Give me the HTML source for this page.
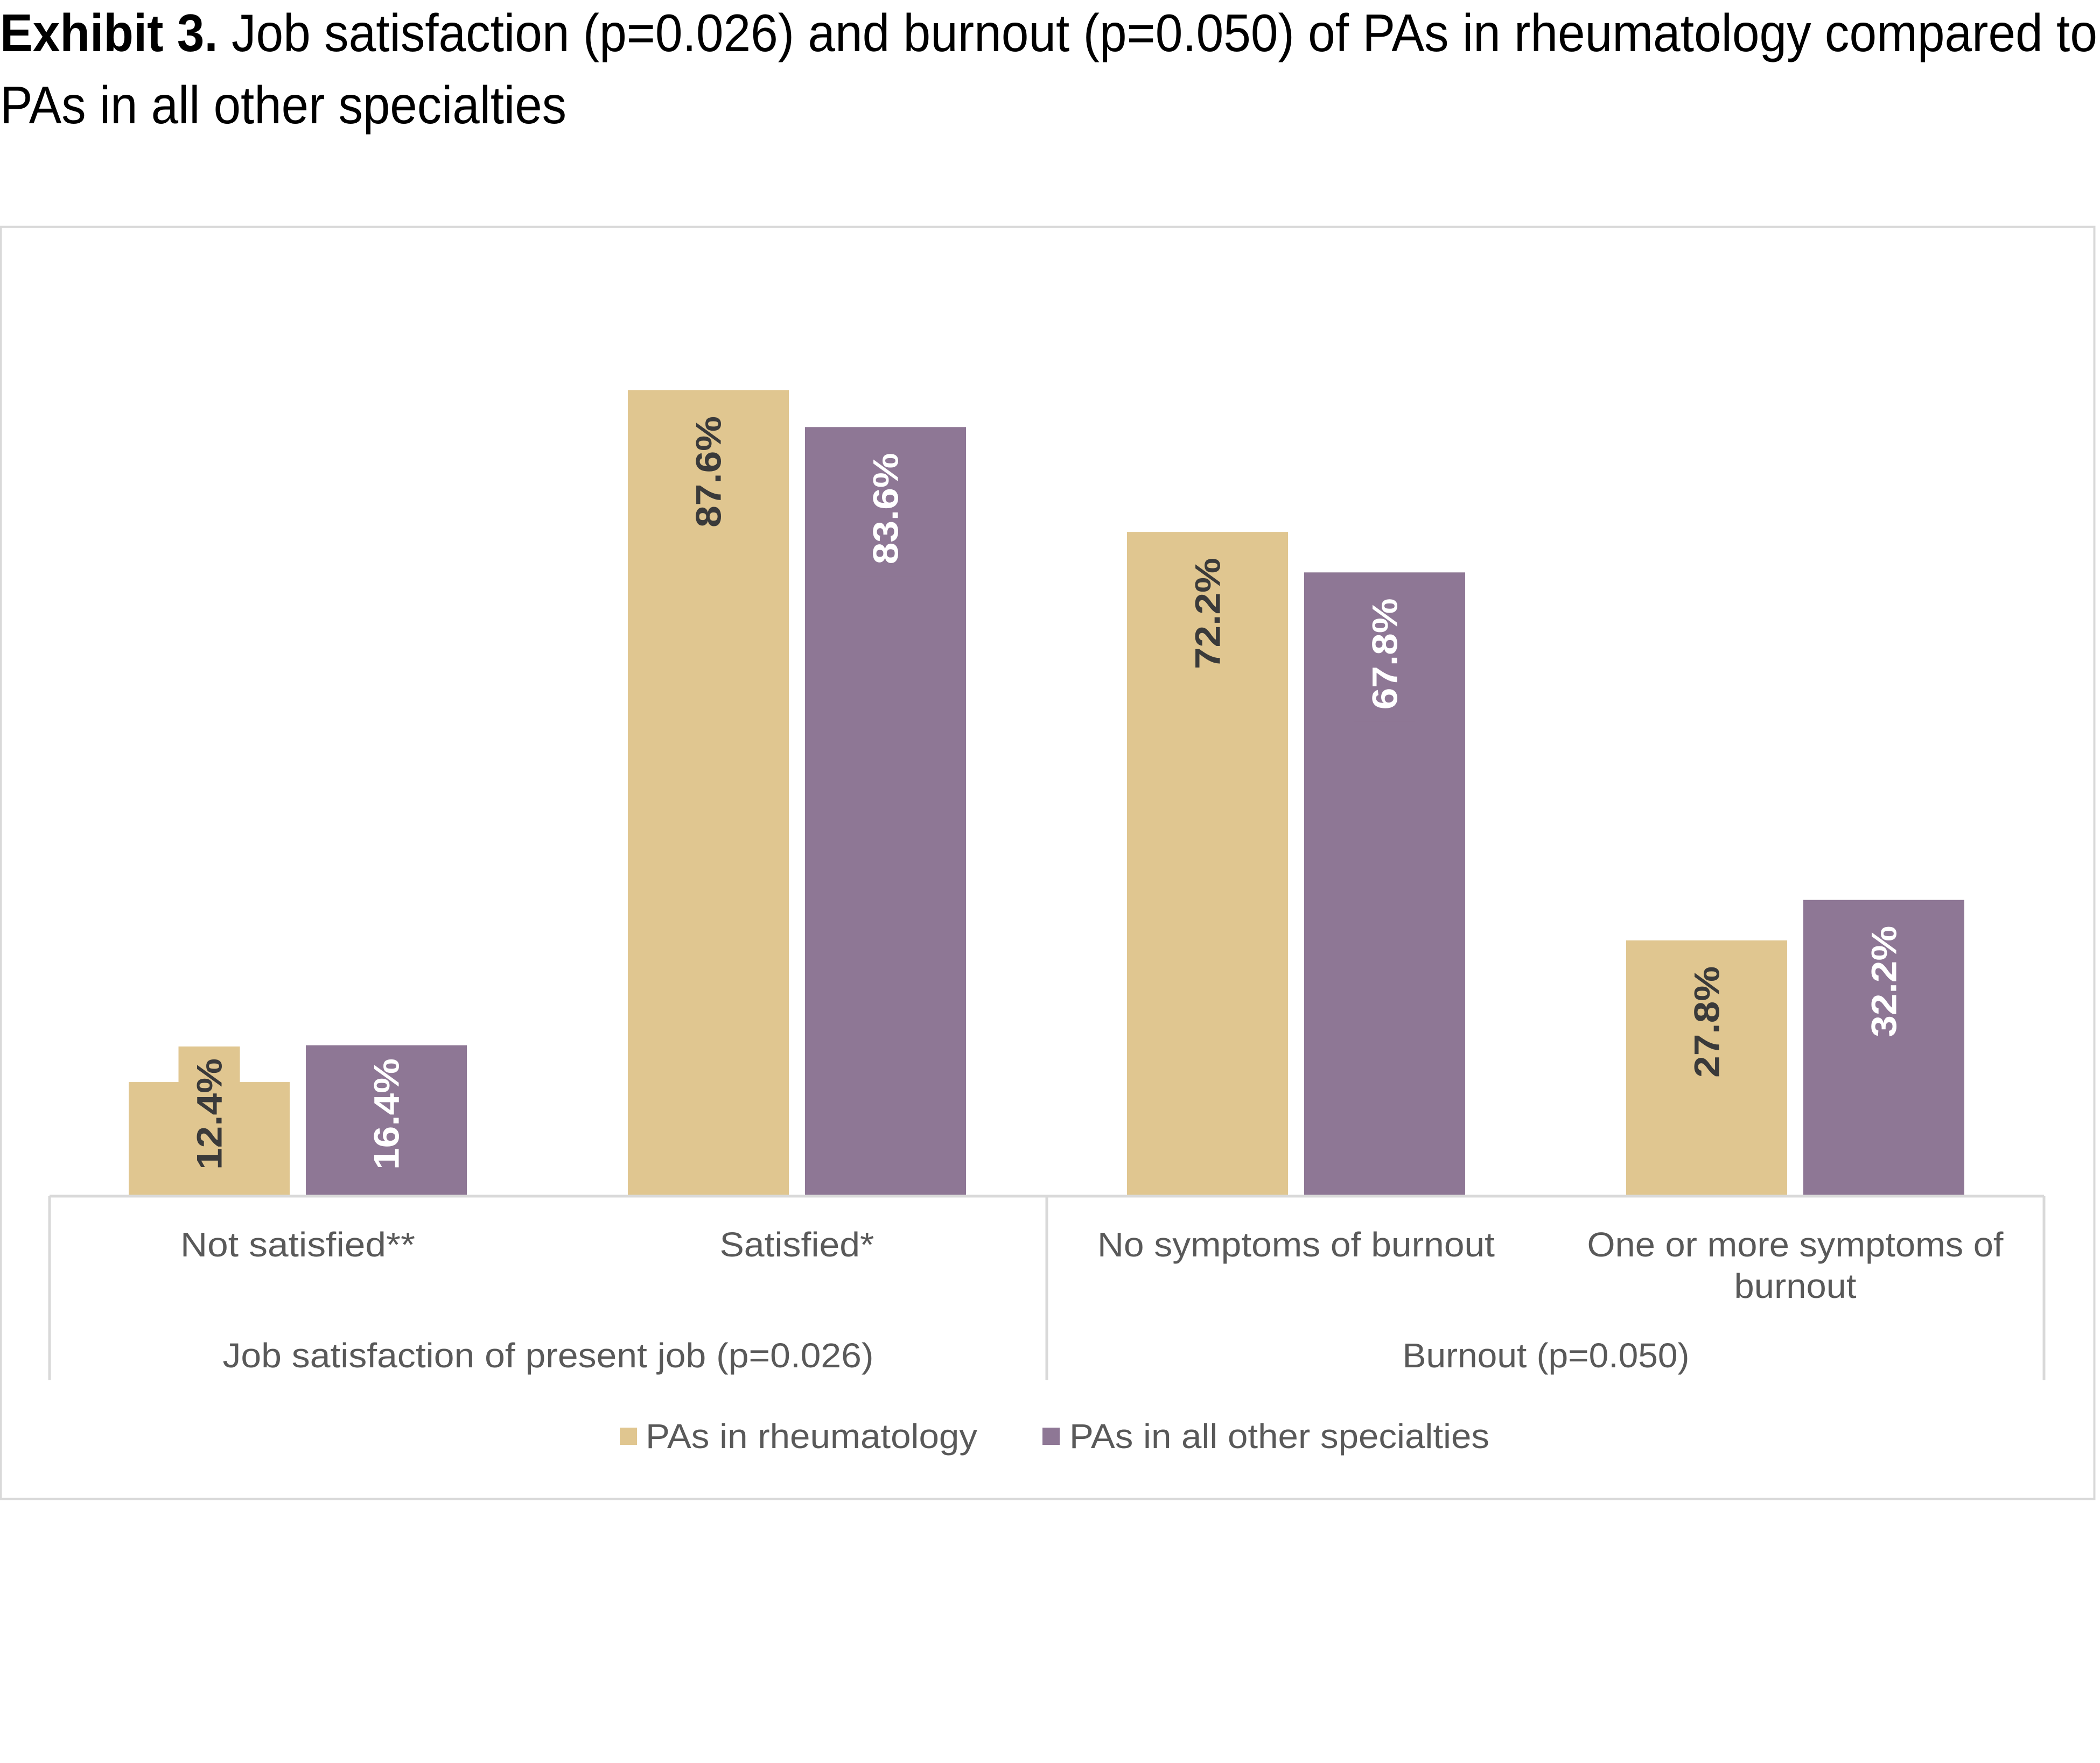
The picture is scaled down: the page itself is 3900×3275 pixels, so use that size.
<!DOCTYPE html>
<html><head><meta charset="utf-8"><style>
html,body{margin:0;padding:0;background:#fff;}
svg{display:block;}
text{font-family:"Liberation Sans",sans-serif;}
</style></head><body>
<svg id="chart" width="3900" height="3275" viewBox="0 0 3900 3275" xmlns="http://www.w3.org/2000/svg">
<rect width="3900" height="3275" fill="#fff"/>
<text x="0" y="95" font-size="98" fill="#000" textLength="3895" lengthAdjust="spacingAndGlyphs"><tspan font-weight="bold">Exhibit 3.</tspan> Job satisfaction (p=0.026) and burnout (p=0.050) of PAs in rheumatology compared to</text>
<text x="0" y="229" font-size="98" fill="#000" textLength="1052" lengthAdjust="spacingAndGlyphs">PAs in all other specialties</text>
<rect x="1.5" y="421.5" width="3888" height="2363" fill="none" stroke="#d9d9d9" stroke-width="4"/>
<g id="bars"></g>
<g id="axis" fill="#595959"></g>
</svg>
<script>
const categories = ["Not satisfied**", "Satisfied*", "No symptoms of burnout", "One or more symptoms of|burnout"];
const rheumatology = [12.4, 87.6, 72.2, 27.8];
const otherSpecialties = [16.4, 83.6, 67.8, 32.2];
const groups = ["Job satisfaction of present job (p=0.026)", "Burnout (p=0.050)"];
const seriesNames = ["PAs in rheumatology", "PAs in all other specialties"];

const NS = "http://www.w3.org/2000/svg";
const baseY = 2222, pxPerUnit = 17.09;
const y = v => baseY - v * pxPerUnit;
const groupStart = 239, groupStep = 927, barW = 299, barGap = 30;
const colors = ["#E0C690", "#8E7795"];
const labelColors = ["#3a3a3a", "#ffffff"];
const catLabelW = [436, 287, 738, 773];
const bars = document.getElementById("bars");
const axis = document.getElementById("axis");
function mk(tag, attrs, parent) {
  const e = document.createElementNS(NS, tag);
  for (const k in attrs) e.setAttribute(k, attrs[k]);
  parent.appendChild(e);
  return e;
}
[rheumatology, otherSpecialties].forEach((series, s) => {
  series.forEach((v, i) => {
    const x = groupStart + i * groupStep + s * (barW + barGap);
    const top = y(v);
    const r = mk("rect", {x: x, y: top, width: barW, height: baseY - top, fill: colors[s]}, bars);
    
    
    const cx = x + barW / 2;
    const labelLen = 207;
    let endY = top + 48;
    if (baseY - top < labelLen + 96) endY = baseY - 49 - labelLen;
    const box = mk("rect", {x: cx - 57, y: endY - 22, width: 114, height: labelLen + 44, fill: colors[s]}, bars);
    
    
    const t = mk("text", {x: 0, y: 0, "font-size": 66, "font-weight": "bold", fill: labelColors[s], textLength: labelLen, lengthAdjust: "spacingAndGlyphs",
      transform: "translate(" + (cx + 23) + "," + (endY + labelLen) + ") rotate(-90)"}, bars);
    t.textContent = v.toFixed(1) + "%";
    
    
  });
});
const ax = mk("line", {x1: 92, y1: baseY, x2: 3796, y2: baseY, stroke: "#d9d9d9", "stroke-width": 5}, axis);


[92, 1944, 3796].forEach(xv => {
  const l = mk("line", {x1: xv, y1: baseY, x2: xv, y2: 2564, stroke: "#d9d9d9", "stroke-width": 5}, axis);
  
  
});
categories.forEach((c, i) => {
  const cx = groupStart + i * groupStep + barW + barGap / 2;
  const parts = c.split("|");
  parts.forEach((p, j) => {
    const t = mk("text", {x: cx, y: 2334 + j * 77, "font-size": 64, "text-anchor": "middle", fill: "#595959", textLength: j === 0 ? catLabelW[i] : 227, lengthAdjust: "spacingAndGlyphs"}, axis);
    t.textContent = p;
    
    
  });
});
const groupCenters = [1018, 2871], groupW = [1209, 533];
groups.forEach((g, i) => {
  const t = mk("text", {x: groupCenters[i], y: 2540, "font-size": 64, "text-anchor": "middle", fill: "#595959", textLength: groupW[i], lengthAdjust: "spacingAndGlyphs"}, axis);
  t.textContent = g;
  
  
});
const legX = [1151, 1936], legTextX = [1199, 1986], legW = [616, 780];
seriesNames.forEach((n, i) => {
  const sq = mk("rect", {x: legX[i], y: 2652, width: 32, height: 32, fill: colors[i]}, axis);
  
  
  const t = mk("text", {x: legTextX[i], y: 2690, "font-size": 64, fill: "#595959", textLength: legW[i], lengthAdjust: "spacingAndGlyphs"}, axis);
  t.textContent = n;
  
  
});
</script>
</body></html>
